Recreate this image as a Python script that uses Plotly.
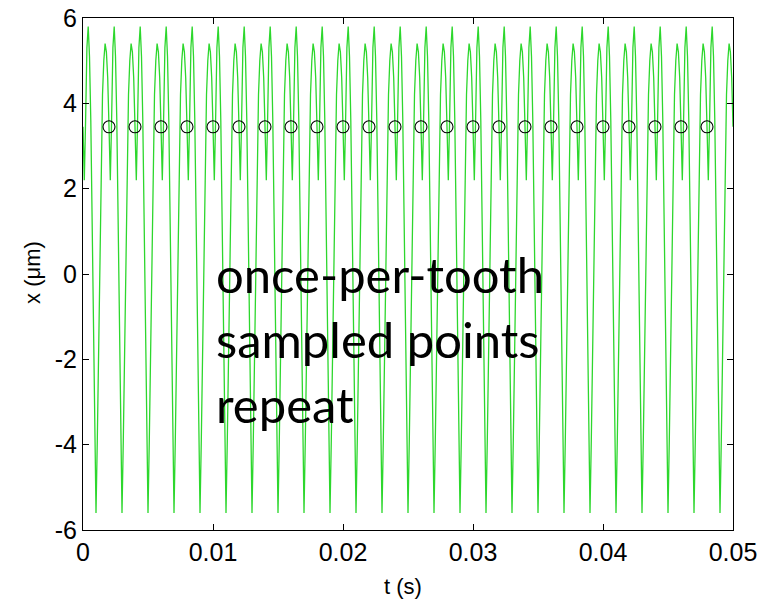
import plotly.graph_objects as go

# one tooth period of the displacement signal (um),
# sampled every 0.1 ms starting at a once-per-tooth sample instant
period_values = [3.45, 2.2, 3.6, 5.3, 5.8, 5.1, 3.6, 1.4, -0.8, -3.6,
                 -5.6, -3.9, -2.0, 0.3, 2.6, 4.2, 5.0, 5.4, 5.2, 4.6]
sample_dt = 0.0001          # s
n_teeth = 25                # tooth periods shown (0 .. 0.05 s)

# once-per-tooth sampled points
sample_t = [0.002, 0.004, 0.006, 0.008, 0.010, 0.012, 0.014, 0.016, 0.018, 0.020,
            0.022, 0.024, 0.026, 0.028, 0.030, 0.032, 0.034, 0.036, 0.038, 0.040,
            0.042, 0.044, 0.046, 0.048]
sample_x = [3.45] * len(sample_t)

x_ticks = [0, 0.01, 0.02, 0.03, 0.04, 0.05]
x_tick_text = ["0", "0.01", "0.02", "0.03", "0.04", "0.05"]
y_ticks = [-6, -4, -2, 0, 2, 4, 6]
y_tick_text = ["-6", "-4", "-2", "0", "2", "4", "6"]

x_title = "t (s)"
y_title = "x (\u03bcm)"
note_lines = ["once-per-tooth", "sampled points", "repeat"]

signal = period_values * n_teeth + period_values[:1]
t = [i * sample_dt for i in range(len(signal))]

fig = go.Figure()
fig.add_trace(go.Scatter(x=t, y=signal, mode="lines",
                         line=dict(color="rgb(45,215,45)", width=1.3),
                         showlegend=False, hoverinfo="skip"))
fig.add_trace(go.Scatter(x=sample_t, y=sample_x, mode="markers",
                         marker=dict(symbol="circle-open", size=12,
                                     color="black", line=dict(width=1.1)),
                         showlegend=False))

axis_font = dict(family="Liberation Sans, Arial", size=25, color="black")
title_font = dict(family="Liberation Sans, Arial", size=22, color="black")
fig.update_xaxes(range=[0, 0.05], tickvals=x_ticks, ticktext=x_tick_text,
                 ticks="inside", ticklen=6, tickcolor="black",
                 showline=True, linecolor="black", linewidth=1, mirror="ticks",
                 showgrid=False, zeroline=False, tickfont=axis_font,
                 automargin=False)
fig.update_yaxes(range=[-6, 6], tickvals=y_ticks, ticktext=y_tick_text,
                 ticks="inside", ticklen=6, tickcolor="black",
                 showline=True, linecolor="black", linewidth=1, mirror="ticks",
                 showgrid=False, zeroline=False, tickfont=axis_font,
                 automargin=False)

fig.add_annotation(text=x_title, xref="paper", yref="paper", x=0.492, y=-0.111,
                   xanchor="center", yanchor="middle", showarrow=False, font=title_font)
fig.add_annotation(text=y_title, xref="paper", yref="paper", x=-0.077, y=0.504,
                   xanchor="center", yanchor="middle", showarrow=False, textangle=-90,
                   font=title_font)

for txt, yp in zip(note_lines, [0.500, 0.373, 0.246]):
    fig.add_annotation(text=txt, xref="paper", yref="paper", x=0.201, y=yp,
                       xanchor="left", yanchor="middle", showarrow=False,
                       font=dict(family="Lato", size=49, color="black"))

fig.update_layout(width=764, height=599, margin=dict(l=83, r=31, t=18, b=69),
                  plot_bgcolor="white", paper_bgcolor="white")
fig.write_html("out.html")
